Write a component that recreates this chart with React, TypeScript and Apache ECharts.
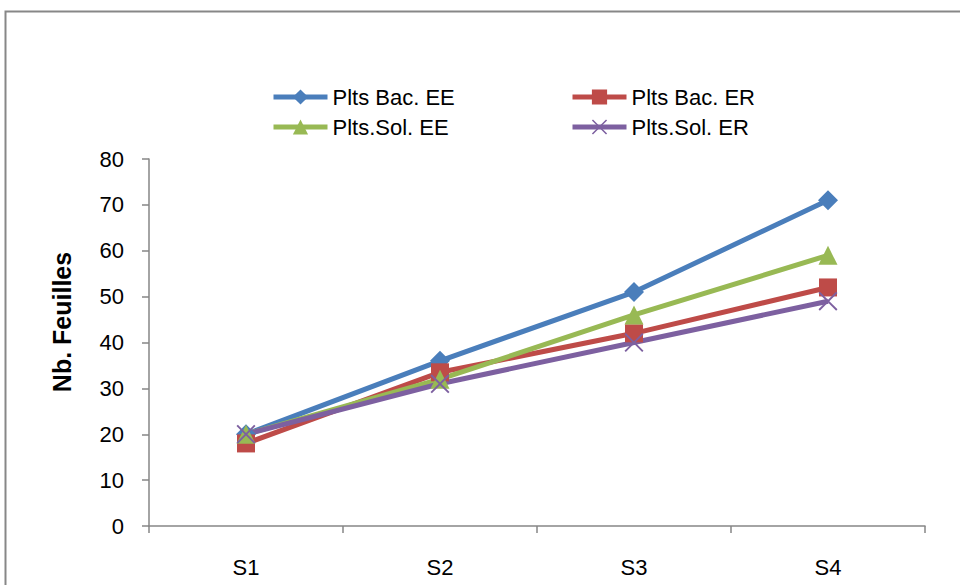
import React, { useEffect, useRef } from "react";
import * as echarts from "echarts";

const categories = ["S1", "S2", "S3", "S4"];
const seriesNames = ["Plts Bac. EE", "Plts Bac. ER", "Plts.Sol. EE", "Plts.Sol. ER"];
const bacEE = [20, 36, 51, 71];
const bacER = [18, 33.5, 42, 52];
const solEE = [20, 32, 46, 59];
const solER = [20, 31, 40, 49];
const yTicks = { min: 0, max: 80, interval: 10 };
const yName = "Nb. Feuilles";

const colors = ["#4a7ebb", "#be4b48", "#98b954", "#7d60a0"];
const symbols = [
  "diamond",
  "rect",
  "triangle",
  "path://M0,1L1,0L7,6L13,0L14,1L8,7L14,13L13,14L7,8L1,14L0,13L6,7Z",
];
const symbolSizes = [20, 18, 19, 19];

const FONT = "'Liberation Sans', Arial, sans-serif";

export default function App() {
  const ref = useRef<HTMLDivElement>(null);
  useEffect(() => {
    if (!ref.current) return;
    const chart = echarts.init(ref.current, undefined, { renderer: "svg" });
    const data = [bacEE, bacER, solEE, solER];
    const legendPos = [
      { left: 271, top: 86 },
      { left: 570, top: 86 },
      { left: 271, top: 116 },
      { left: 570, top: 116 },
    ];
    chart.setOption({
      animation: false,
      backgroundColor: "#ffffff",
      textStyle: { fontFamily: FONT },
      graphic: [
        {
          type: "rect",
          shape: { x: 5.5, y: 11.5, width: 1000, height: 1000 },
          style: { fill: "none", stroke: "#878787", lineWidth: 2 },
          silent: true,
        },
        {
          type: "text",
          x: 62,
          y: 322,
          rotation: Math.PI / 2,
          style: {
            text: yName,
            fontFamily: FONT,
            fontSize: 25,
            fontWeight: "bold",
            fill: "#000",
            align: "center",
            verticalAlign: "middle",
          },
          silent: true,
        },
      ],
      legend: seriesNames.map((n, i) => ({
        data: [n],
        left: legendPos[i].left,
        top: legendPos[i].top,
        padding: 0,
        itemWidth: 54,
        itemHeight: 19,
        itemGap: 5,
        lineStyle: { width: 5 },
        textStyle: { fontFamily: FONT, fontSize: 22, color: "#000" },
      })),
      grid: { left: 149, right: 35, top: 159, bottom: 59, containLabel: false },
      xAxis: {
        type: "category",
        data: categories,
        boundaryGap: true,
        axisLine: { lineStyle: { color: "#868686", width: 1.5 } },
        axisTick: { show: true, length: 7, inside: false, lineStyle: { color: "#868686", width: 1.5 } },
        axisLabel: { color: "#000", fontFamily: FONT, fontSize: 22, margin: 30 },
        splitLine: { show: false },
      },
      yAxis: {
        type: "value",
        min: yTicks.min,
        max: yTicks.max,
        interval: yTicks.interval,
        axisLine: { show: true, lineStyle: { color: "#868686", width: 1.5 } },
        axisTick: { show: true, length: 7, inside: false, lineStyle: { color: "#868686", width: 1.5 } },
        axisLabel: { color: "#000", fontFamily: FONT, fontSize: 22, margin: 25 },
        splitLine: { show: false },
      },
      series: seriesNames.map((n, i) => ({
        name: n,
        type: "line",
        data: data[i],
        symbol: symbols[i],
        symbolSize: symbolSizes[i],
        showSymbol: true,
        lineStyle: { color: colors[i], width: 5 },
        itemStyle: { color: colors[i] },
      })),
    });
    return () => chart.dispose();
  }, []);
  return (
    <div
      ref={ref}
      style={{ position: "fixed", left: 0, top: 0, width: 960, height: 585 }}
    />
  );
}
